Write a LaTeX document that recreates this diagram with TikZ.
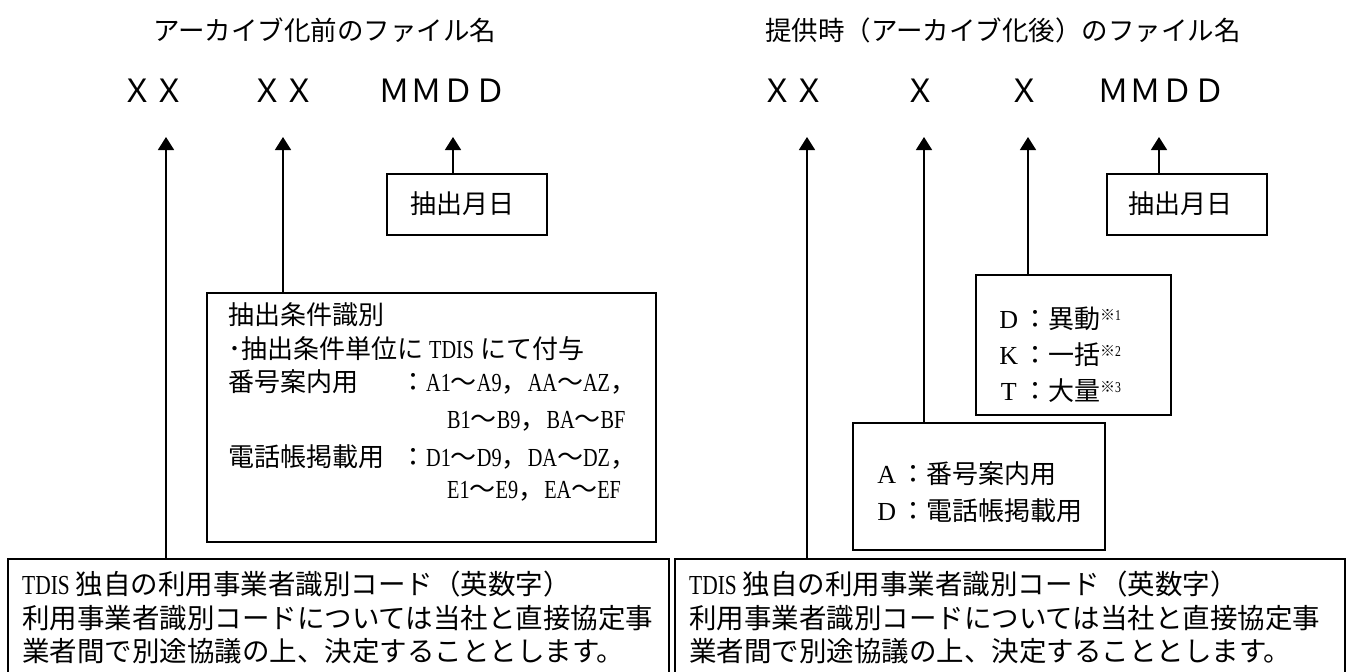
\documentclass[tikz,border=0pt]{standalone}
\usepackage{fontspec}
\setmainfont{Liberation Serif}
\newfontfamily\jp{Noto Sans CJK JP}
\newfontfamily\lat[FakeStretch=0.78]{Liberation Serif}
\usetikzlibrary{arrows.meta}
\newcommand\fsz[1]{\fontsize{#1pt}{#1pt}\selectfont}
\newcommand\notemark[1]{\raisebox{8pt}{\fsz{15}\jp ※\lat #1}}
\begin{document}
\begin{tikzpicture}[x=1pt,y=-1pt,
  box/.style={draw, line width=1.9pt, inner sep=0pt, outer sep=0pt, anchor=north west},
  conn/.style={line width=1.6pt, -{Triangle[width=16pt,length=13pt]}},
  txt/.style={inner sep=0pt, anchor=base west, font=\jp\fsz{26}},
  btxt/.style={inner sep=0pt, anchor=base west, font=\jp\fsz{27.5}},
  ttl/.style={inner sep=0pt, anchor=base, font=\jp\fsz{26.5}},
  code/.style={inner sep=0pt, anchor=base, font=\jp\fsz{32}}]
\useasboundingbox (0,0) rectangle (1358,672);

% titles
\node[ttl] (t1) at (325,40) {アーカイブ化前のファイル名};
\node[ttl] (t2) at (1003,40) {提供時（アーカイブ化後）のファイル名};

% file name parts
\node[code] (l1) at (153,102) {ＸＸ};
\node[code] (l2) at (283,102) {ＸＸ};
\node[code] (l3) at (442,102) {ＭＭＤＤ};
\node[code] (r1) at (793,102) {ＸＸ};
\node[code] (r2) at (920,102) {Ｘ};
\node[code] (r3) at (1024,102) {Ｘ};
\node[code] (r4) at (1161,102) {ＭＭＤＤ};

% arrow tips
\coordinate (a1) at (166,137);
\coordinate (a2) at (283,137);
\coordinate (a3) at (453,137);
\coordinate (a4) at (807,137);
\coordinate (a5) at (924,137);
\coordinate (a6) at (1028,137);
\coordinate (a7) at (1159,137);

% boxes
\node[box, minimum width=160pt, minimum height=61pt] (bm1) at (387,174) {};
\node[box, minimum width=449pt, minimum height=249pt] (bmid) at (207,293) {};
\node[box, minimum width=661pt, minimum height=130pt] (bL) at (8,559) {};
\node[box, minimum width=160pt, minimum height=61pt] (bm2) at (1107,174) {};
\node[box, minimum width=195pt, minimum height=140pt] (bdkt) at (976,275) {};
\node[box, minimum width=252pt, minimum height=127pt] (bad) at (853,423) {};
\node[box, minimum width=670pt, minimum height=130pt] (bR) at (675,559) {};

% connectors
\draw[conn] (a1 |- bL.north) -- (a1);
\draw[conn] (a2 |- bmid.north) -- (a2);
\draw[conn] (a3 |- bm1.north) -- (a3);
\draw[conn] (a4 |- bR.north) -- (a4);
\draw[conn] (a5 |- bad.north) -- (a5);
\draw[conn] (a6 |- bdkt.north) -- (a6);
\draw[conn] (a7 |- bm2.north) -- (a7);

% box texts
\node[txt] (m1t) at (410,213) {抽出月日};
\node[txt] (m2t) at (1128,213) {抽出月日};

\node[txt] (c1) at (228,324) {抽出条件識別};
\node[txt] (c2) at (228,358) {･抽出条件単位に\hspace{6pt}{\lat TDIS}\hspace{6pt}にて付与};
\node[txt] (c3) at (228,391) {番号案内用};
\node[txt] (c3b) at (400,391) {：{\lat A1}～{\lat A9}，{\lat AA}～{\lat AZ}，};
\node[txt] (c4) at (447,428) {{\lat B1}～{\lat B9}，{\lat BA}～{\lat BF}};
\node[txt] (c5) at (228,466) {電話帳掲載用};
\node[txt] (c5b) at (400,466) {：{\lat D1}～{\lat D9}，{\lat DA}～{\lat DZ}，};
\node[txt] (c6) at (447,498) {{\lat E1}～{\lat E9}，{\lat EA}～{\lat EF}};

\node[txt] (d1) at (995,328) {\makebox[27pt]{\rmfamily D}：異動\notemark{1}};
\node[txt] (d2) at (995,364) {\makebox[27pt]{\rmfamily K}：一括\notemark{2}};
\node[txt] (d3) at (995,400) {\makebox[27pt]{\rmfamily T}：大量\notemark{3}};

\node[txt] (e1) at (873,483) {\makebox[27pt]{\rmfamily A}：番号案内用};
\node[txt] (e2) at (873,520) {\makebox[27pt]{\rmfamily D}：電話帳掲載用};

\node[btxt] (L1) at (22,594) {{\lat TDIS}\hspace{6pt}独自の利用事業者識別コード（英数字）};
\node[btxt] (L2) at (22,628) {利用事業者識別コードについては当社と直接協定事};
\node[btxt] (L3) at (22,661) {業者間で別途協議の上、決定することとします。};
\node[btxt] (R1) at (689,594) {{\lat TDIS}\hspace{6pt}独自の利用事業者識別コード（英数字）};
\node[btxt] (R2) at (689,628) {利用事業者識別コードについては当社と直接協定事};
\node[btxt] (R3) at (689,661) {業者間で別途協議の上、決定することとします。};
\end{tikzpicture}
\end{document}
